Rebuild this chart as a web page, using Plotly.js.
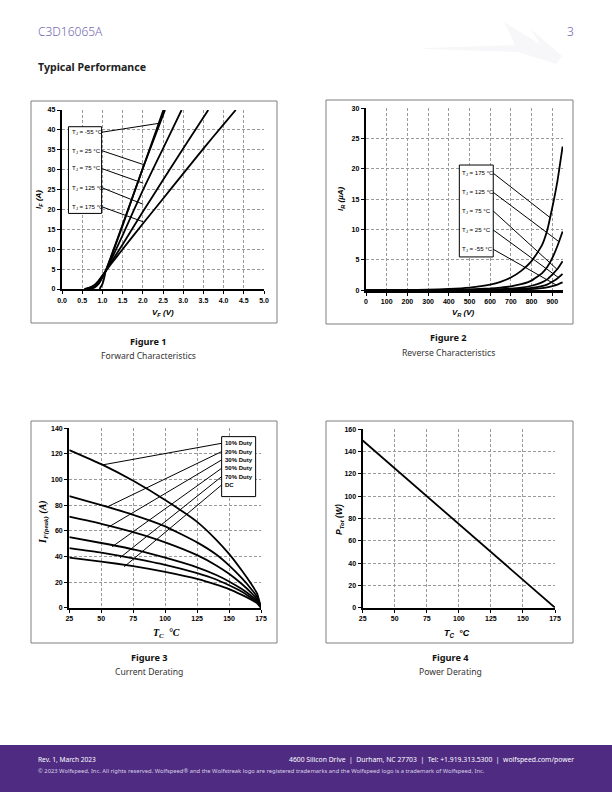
<!DOCTYPE html>
<html><head><meta charset="utf-8">
<script src="https://cdn.plot.ly/plotly-3.0.1.min.js"></script>
<style>html,body{margin:0;padding:0;background:#fff}#chart{width:612px;height:792px}</style>
</head><body><div id="chart"></div>
<script>
// ---------- Figure 1: Forward characteristics ----------
const fwdTemps = ['-55', '25', '75', '125', '175'];
const fwdV_m55 = [0.93, 1.0, 1.05, 1.08, 1.2, 1.5, 2.0, 2.51];
const fwdI_m55 = [0, 1.2, 3.0, 4.5, 7.8, 16.2, 30.3, 45];
const fwdV_25 = [0.68, 0.8, 0.9, 1.0, 1.08, 1.2, 1.5, 2.0, 2.55];
const fwdI_25 = [0, 0.35, 1.2, 2.9, 4.5, 7.6, 15.9, 30.4, 45];
const fwdV_75 = [0.64, 0.8, 0.9, 1.0, 1.08, 1.2, 1.5, 2.0, 2.5, 2.96];
const fwdI_75 = [0, 0.6, 1.6, 3.1, 4.5, 7.0, 13.5, 24.8, 35.3, 45];
const fwdV_125 = [0.6, 0.8, 0.9, 1.0, 1.08, 1.2, 1.5, 2.0, 2.5, 3.0, 3.62];
const fwdI_125 = [0, 0.8, 1.9, 3.3, 4.5, 6.5, 11.2, 19.4, 27.4, 35.3, 45];
const fwdV_175 = [0.55, 0.7, 0.8, 0.9, 1.0, 1.08, 1.2, 1.5, 2.0, 2.5, 3.0, 3.5, 4.0, 4.3];
const fwdI_175 = [0, 0.4, 1.0, 2.0, 3.4, 4.5, 6.1, 10.0, 16.4, 22.7, 29.0, 35.3, 41.4, 45];
const fig1XTicks = [0, 0.5, 1, 1.5, 2, 2.5, 3, 3.5, 4, 4.5, 5];
const fig1YTicks = [0, 5, 10, 15, 20, 25, 30, 35, 40, 45];
// legend label anchor values and leader-line targets (data units)
const fig1LabelY = [39.4, 34.8, 30.3, 25.5, 20.7];
const fig1PointV = [2.43, 2.01, 2.01, 2.01, 2.01];
const fig1PointI = [41.7, 31.3, 26.6, 21.3, 16.9];

// ---------- Figure 2: Reverse characteristics ----------
const revV = [0, 100, 200, 300, 400, 500, 600, 650, 700, 750, 800, 850, 875, 900, 925, 950];
const revI_175 = [0, 0.02, 0.05, 0.1, 0.22, 0.45, 0.95, 1.4, 2.1, 3.2, 4.8, 7.4, 9.8, 13.6, 18.0, 23.7];
const revI_125 = [0, 0, 0.01, 0.03, 0.07, 0.15, 0.3, 0.45, 0.65, 1.0, 1.6, 2.8, 3.8, 5.3, 7.3, 9.7];
const revI_75 = [0, 0, 0, 0.01, 0.03, 0.06, 0.12, 0.18, 0.28, 0.45, 0.75, 1.3, 1.8, 2.6, 3.5, 4.8];
const revI_25 = [0, 0, 0, 0, 0.01, 0.03, 0.06, 0.09, 0.14, 0.24, 0.4, 0.7, 0.95, 1.4, 1.95, 2.7];
const revI_m55 = [0, 0, 0, 0, 0, 0.01, 0.03, 0.05, 0.07, 0.12, 0.2, 0.35, 0.5, 0.7, 0.95, 1.3];
const revTemps = ['175', '125', '75', '25', '-55'];
const fig2XTicks = [0, 100, 200, 300, 400, 500, 600, 700, 800, 900];
const fig2YTicks = [0, 5, 10, 15, 20, 25, 30];
const fig2LabelY = [19.3, 16.15, 13.07, 9.94, 6.76];
const fig2PointV = [889, 933, 922, 930, 918];
const fig2PointI = [12.0, 8.0, 3.5, 2.1, 0.9];

// ---------- Figure 3: Current derating ----------
const derTc = [25, 50, 75, 100, 125, 140, 150, 160, 167, 172, 175];
const der10 = [123, 112, 99, 84, 67, 53, 42, 29, 19, 11, 0];
const der20 = [87, 80, 72.5, 63.5, 51, 41.5, 33, 23, 15, 8.5, 0];
const der30 = [71, 65.5, 59, 51, 41, 33, 26.5, 18.5, 12, 6.5, 0];
const der50 = [55, 50.5, 45.5, 39, 31.5, 25.5, 20.5, 14.5, 9.5, 5.5, 0];
const der70 = [46.5, 43, 38.5, 33.5, 27, 22, 17.5, 12.5, 8, 4.5, 0];
const derDC = [39, 36, 32.5, 28, 22.5, 18, 14.5, 10, 6.5, 3.5, 0];
const dutyLabels = ['10% Duty', '20% Duty', '30% Duty', '50% Duty', '70% Duty', 'DC'];
const fig3XTicks = [25, 50, 75, 100, 125, 150, 175];
const fig3YTicks = [0, 20, 40, 60, 80, 100, 120, 140];
const fig3LabelY = [128.3, 121.8, 115.3, 108.8, 102.3, 95.8];
const fig3PointT = [50.8, 55, 55, 58.6, 64.7, 68];
const fig3PointI = [111.4, 78.8, 62.5, 47.6, 39, 32];

// ---------- Figure 4: Power derating ----------
const pwrTc = [25, 175];
const pwrP = [150, 0];
const fig4XTicks = [25, 50, 75, 100, 125, 150, 175];
const fig4YTicks = [0, 20, 40, 60, 80, 100, 120, 140, 160];

// ---------- page helpers ----------
const W = 612, H = 792;
const px = x => x / W;
const py = y => 1 - y / H;
const SANS = 'Liberation Sans, Arial, sans-serif';
const PAGE = 'Noto Sans, Open Sans, sans-serif';

function mkAxis(dom, range, ticks, fmt, anchor) {
  return {
    domain: dom, range: range, anchor: anchor, fixedrange: true,
    tickvals: ticks, ticktext: ticks.map(fmt),
    showgrid: true, gridcolor: '#9a9a9a', griddash: '3px,2px', gridwidth: 1,
    zeroline: false, showline: true, linecolor: '#000', linewidth: 2.2,
    ticks: 'outside', ticklen: 3, tickwidth: 1, tickcolor: '#000',
    tickfont: {family: SANS, size: 7, color: '#000', weight: 'bold'},
  };
}
const f0 = v => String(v);
const f1 = v => v.toFixed(1);

const LW = 1.8;
function line(x, y, xa, ya, w) {
  return {x: x, y: y, xaxis: xa, yaxis: ya, type: 'scatter', mode: 'lines',
    line: {color: '#000', width: w || LW, shape: 'spline', smoothing: 0.4}, hoverinfo: 'skip', showlegend: false};
}

const traces = [
  line(fwdV_m55, fwdI_m55, 'x', 'y'),
  line(fwdV_25, fwdI_25, 'x', 'y'),
  line(fwdV_75, fwdI_75, 'x', 'y'),
  line(fwdV_125, fwdI_125, 'x', 'y'),
  line(fwdV_175, fwdI_175, 'x', 'y'),
  line(revV, revI_175, 'x2', 'y2'),
  line(revV, revI_125, 'x2', 'y2'),
  line(revV, revI_75, 'x2', 'y2'),
  line(revV, revI_25, 'x2', 'y2'),
  line(revV, revI_m55, 'x2', 'y2'),
  line(derTc, der10, 'x3', 'y3'),
  line(derTc, der20, 'x3', 'y3'),
  line(derTc, der30, 'x3', 'y3'),
  line(derTc, der50, 'x3', 'y3'),
  line(derTc, der70, 'x3', 'y3'),
  line(derTc, derDC, 'x3', 'y3'),
  line(pwrTc, pwrP, 'x4', 'y4'),
];

const shapes = [];
const annotations = [];

// footer band
shapes.push({type: 'rect', xref: 'paper', yref: 'paper', x0: 0, x1: 1, y0: 0, y1: py(745),
  fillcolor: '#4f2b82', line: {width: 0}, layer: 'below'});
// watermark
function pathPx(pts) {
  return 'M' + pts.map(p => px(p[0]) + ',' + py(p[1])).join(' L') + ' Z';
}
shapes.push({type: 'path', xref: 'paper', yref: 'paper', layer: 'below',
  path: pathPx([[425, 48], [515, 45], [504, 22], [540, 44], [530, 28], [562, 56], [556, 64], [518, 52], [425, 49]]),
  fillcolor: '#f7f7f9', line: {width: 0}});

// figure frames
[[31, 101, 277, 323], [326, 100, 573, 324], [31, 421, 277, 643], [326, 421, 573, 643]].forEach(r => {
  shapes.push({type: 'rect', xref: 'paper', yref: 'paper', x0: px(r[0]), x1: px(r[2]), y0: py(r[3]), y1: py(r[1]),
    line: {color: '#7f7f7f', width: 1}, fillcolor: 'rgba(0,0,0,0)', layer: 'below'});
});

function box(xr, yr, x0, x1, y0, y1) {
  shapes.push({type: 'rect', xref: xr, yref: yr, x0: x0, x1: x1, y0: y0, y1: y1,
    line: {color: '#000', width: 1}, fillcolor: '#fff', layer: 'above'});
}
function seg(xr, yr, x0, y0, x1, y1) {
  shapes.push({type: 'line', xref: xr, yref: yr, x0: x0, y0: y0, x1: x1, y1: y1,
    line: {color: '#000', width: 1}, layer: 'above'});
}
function txt(xr, yr, x, y, text, opts) {
  annotations.push(Object.assign({xref: xr, yref: yr, x: x, y: y, text: text, showarrow: false,
    xanchor: 'left', yanchor: 'middle', font: {family: SANS, size: 6, color: '#000'}}, opts || {}));
}

// Fig 1 legend
box('x', 'y', 0.16, 0.98, 19.0, 40.8);
fwdTemps.forEach((t, i) => {
  txt('x', 'y', 0.19, fig1LabelY[i], 'T<sub>J</sub> = ' + t + ' °C', {font: {family: SANS, size: 6.1, color: '#000'}});
  seg('x', 'y', 0.98, fig1LabelY[i], fig1PointV[i], fig1PointI[i]);
});
// Fig 2 legend
box('x2', 'y2', 451, 615, 5.5, 20.65);
revTemps.forEach((t, i) => {
  txt('x2', 'y2', 456, fig2LabelY[i], 'T<sub>J</sub> = ' + t + ' °C', {font: {family: SANS, size: 6.1, color: '#000'}});
  seg('x2', 'y2', 615, fig2LabelY[i], fig2PointV[i], fig2PointI[i]);
});
// Fig 3 legend
box('x3', 'y3', 144.2, 170.8, 86.7, 133.5);
dutyLabels.forEach((t, i) => {
  txt('x3', 'y3', 145.0, fig3LabelY[i], t, {font: {family: SANS, size: 6, color: '#000', weight: 'bold'}});
  seg('x3', 'y3', 144.2, fig3LabelY[i], fig3PointT[i], fig3PointI[i]);
});

// axis titles
const TT = {family: SANS, size: 8, color: '#000'};
function ptxt(x, y, text, font, opts) {
  annotations.push(Object.assign({xref: 'paper', yref: 'paper', x: px(x), y: py(y), text: text, showarrow: false,
    xanchor: 'center', yanchor: 'middle', font: font}, opts || {}));
}
ptxt(39, 200, '<b><i>I<sub>F</sub> (A)</i></b>', TT, {textangle: -90});
ptxt(163, 313, '<b><i>V<sub>F</sub> (V)</i></b>', TT);
ptxt(341, 199, '<b><i>I<sub>R</sub> (µA)</i></b>', TT, {textangle: -90});
ptxt(463, 313, '<b><i>V<sub>R</sub> (V)</i></b>', TT);
const SER = {family: 'Liberation Serif, serif', size: 10, color: '#000'};
ptxt(43, 522, '<b><i>I<sub>F(peak)</sub> (A)</i></b>', SER, {textangle: -90});
ptxt(166, 633, '<b><i>T<sub>C</sub>  °C</i></b>', SER);
ptxt(339, 520, '<b><i>P<sub>Tot</sub> (W)</i></b>', {family: SANS, size: 8.5, color: '#000'}, {textangle: -90});
ptxt(457, 633, '<b><i>T<sub>C</sub>  °C</i></b>', {family: SANS, size: 9, color: '#000'});

// captions
const CAPB = {family: PAGE, size: 9.2, color: '#111', weight: 'bold'};
const CAP = {family: PAGE, size: 8.6, color: '#333'};
ptxt(148, 341, 'Figure 1', CAPB); ptxt(148, 356, 'Forward Characteristics', CAP);
ptxt(449, 338, 'Figure 2', CAPB); ptxt(449, 353, 'Reverse Characteristics', CAP);
ptxt(149, 657, 'Figure 3', CAPB); ptxt(149, 672, 'Current Derating', CAP);
ptxt(450, 657, 'Figure 4', CAPB); ptxt(450, 672, 'Power Derating', CAP);

// header
ptxt(36, 31, 'C3D16065A', {family: PAGE, size: 12, color: '#7468b4', weight: 300}, {xanchor: 'left'});
ptxt(576, 31, '3', {family: PAGE, size: 12, color: '#7468b4', weight: 300}, {xanchor: 'right'});
ptxt(36, 67, 'Typical Performance', {family: PAGE, size: 10.6, color: '#222', weight: 'bold'}, {xanchor: 'left'});

// footer
ptxt(36, 759, 'Rev. 1, March 2023', {family: PAGE, size: 6.6, color: '#fff'}, {xanchor: 'left'});
ptxt(576, 759, '4600 Silicon Drive  |  Durham, NC 27703  |  Tel: +1.919.313.5300  |  wolfspeed.com/power', {family: PAGE, size: 6.8, color: '#fff'}, {xanchor: 'right'});
ptxt(36, 771, '© 2023 Wolfspeed, Inc. All rights reserved. Wolfspeed® and the Wolfstreak logo are registered trademarks and the Wolfspeed logo is a trademark of Wolfspeed, Inc.', {family: PAGE, size: 5.8, color: '#d8d0e6'}, {xanchor: 'left'});

const layout = {
  width: W, height: H, autosize: false,
  margin: {l: 0, r: 0, t: 0, b: 0},
  paper_bgcolor: '#fff', plot_bgcolor: 'rgba(0,0,0,0)',
  showlegend: false,
  xaxis: mkAxis([px(62), px(264)], [0, 5], fig1XTicks, f1, 'y'),
  yaxis: mkAxis([py(289), py(110)], [0, 45], fig1YTicks, f0, 'x'),
  xaxis2: mkAxis([px(366), px(563)], [0, 952], fig2XTicks, f0, 'y2'),
  yaxis2: mkAxis([py(290.3), py(108.3)], [0, 30], fig2YTicks, f0, 'x2'),
  xaxis3: mkAxis([px(69.3), px(261)], [25, 175], fig3XTicks, f0, 'y3'),
  yaxis3: mkAxis([py(607.7), py(428.3)], [0, 140], fig3YTicks, f0, 'x3'),
  xaxis4: mkAxis([px(362.7), px(555)], [25, 175], fig4XTicks, f0, 'y4'),
  yaxis4: mkAxis([py(607.7), py(429.3)], [0, 160], fig4YTicks, f0, 'x4'),
  shapes: shapes,
  annotations: annotations,
};

Plotly.newPlot('chart', traces, layout, {displayModeBar: false, staticPlot: true});
</script>
</body></html>
